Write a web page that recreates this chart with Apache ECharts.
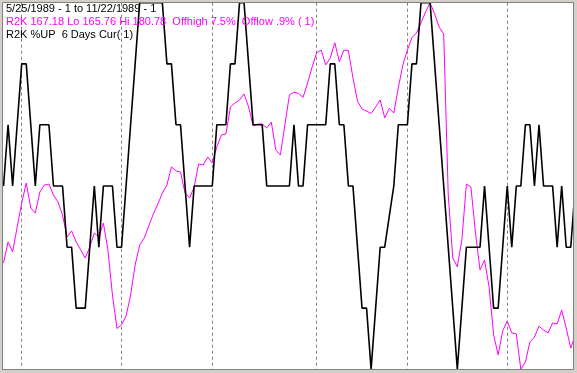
<!DOCTYPE html>
<html><head><meta charset="utf-8">
<script src="https://cdn.jsdelivr.net/npm/echarts@6/dist/echarts.min.js"></script>
<style>html,body{margin:0;padding:0;background:#fff;overflow:hidden}#c{width:577px;height:373px}</style>
</head><body><div id="c"></div>
<script>
// Trading days 5/25/1989 .. 11/22/1989
const dates = [
 '1989-05-25','1989-05-26','1989-05-30','1989-05-31',
 '1989-06-01','1989-06-02','1989-06-05','1989-06-06','1989-06-07','1989-06-08','1989-06-09','1989-06-12','1989-06-13','1989-06-14','1989-06-15','1989-06-16','1989-06-19','1989-06-20','1989-06-21','1989-06-22','1989-06-23','1989-06-26','1989-06-27','1989-06-28','1989-06-29','1989-06-30',
 '1989-07-03','1989-07-05','1989-07-06','1989-07-07','1989-07-10','1989-07-11','1989-07-12','1989-07-13','1989-07-14','1989-07-17','1989-07-18','1989-07-19','1989-07-20','1989-07-21','1989-07-24','1989-07-25','1989-07-26','1989-07-27','1989-07-28','1989-07-31',
 '1989-08-01','1989-08-02','1989-08-03','1989-08-04','1989-08-07','1989-08-08','1989-08-09','1989-08-10','1989-08-11','1989-08-14','1989-08-15','1989-08-16','1989-08-17','1989-08-18','1989-08-21','1989-08-22','1989-08-23','1989-08-24','1989-08-25','1989-08-28','1989-08-29','1989-08-30','1989-08-31',
 '1989-09-01','1989-09-05','1989-09-06','1989-09-07','1989-09-08','1989-09-11','1989-09-12','1989-09-13','1989-09-14','1989-09-15','1989-09-18','1989-09-19','1989-09-20','1989-09-21','1989-09-22','1989-09-25','1989-09-26','1989-09-27','1989-09-28','1989-09-29',
 '1989-10-02','1989-10-03','1989-10-04','1989-10-05','1989-10-06','1989-10-09','1989-10-10','1989-10-11','1989-10-12','1989-10-13','1989-10-16','1989-10-17','1989-10-18','1989-10-19','1989-10-20','1989-10-23','1989-10-24','1989-10-25','1989-10-26','1989-10-27','1989-10-30','1989-10-31',
 '1989-11-01','1989-11-02','1989-11-03','1989-11-06','1989-11-07','1989-11-08','1989-11-09','1989-11-10','1989-11-13','1989-11-14','1989-11-15','1989-11-16','1989-11-17','1989-11-20','1989-11-21','1989-11-22'
];
// R2K close (magenta)
const r2k = [
 170.12,170.98,170.57,171.59,172.57,173.39,172.37,172.16,173.02,173.31,
 173.35,172.90,172.61,172.08,171.18,171.43,170.98,170.65,170.32,170.77,
 171.34,171.18,171.75,170.65,168.80,167.43,167.58,167.94,168.80,170.03,
 170.85,171.14,171.63,172.12,172.53,172.98,173.31,174.05,173.89,173.84,
 172.98,172.78,173.23,174.17,174.13,174.46,174.21,174.87,175.36,175.40,
 176.51,176.67,176.79,177.04,176.51,175.73,175.81,175.81,175.65,175.89,
 174.75,174.54,175.77,177.00,177.12,177.06,176.90,177.49,178.15,178.73,
 178.84,178.23,178.51,179.14,178.36,178.84,178.82,177.70,176.75,176.42,
 176.34,176.24,176.51,176.79,176.06,176.45,176.26,177.30,178.23,178.84,
 179.35,179.54,179.95,180.40,180.78,180.32,179.78,179.50,172.90,170.32,
 169.96,171.06,173.35,173.23,171.34,169.83,170.24,169.13,167.17,166.35,
 167.33,167.74,167.25,167.21,165.76,166.06,166.88,167.08,167.53,167.37,
 167.25,167.66,167.62,168.19,167.45,166.63,167.18
];
// R2K %UP over 6 days (black)
const pctUp = [
 50,66.7,50,66.7,83.3,83.3,66.7,50,66.7,66.7,
 66.7,50,50,50,33.3,33.3,16.7,16.7,16.7,33.3,
 50,33.3,50,50,50,33.3,33.3,50,66.7,83.3,
 100,100,100,100,100,100,83.3,83.3,66.7,66.7,
 50,33.3,50,50,50,50,50,66.7,66.7,66.7,
 83.3,83.3,100,100,83.3,66.7,66.7,66.7,50,50,
 50,50,50,50,66.7,50,50,66.7,66.7,66.7,
 66.7,66.7,83.3,83.3,66.7,66.7,50,50,33.3,16.7,
 16.7,0,16.7,33.3,33.3,41.7,50,66.7,66.7,66.7,
 83.3,83.3,100,100,100,83.3,66.7,50,33.3,16.7,
 0,16.7,33.3,33.3,33.3,33.3,50,33.3,16.7,16.7,
 33.3,50,33.3,50,50,66.7,66.7,50,66.7,50,
 50,50,33.3,50,33.3,33.3,50
];
const r2kLo = 165.76, r2kHi = 180.78;
const headerLines = [
 {text: '5/25/1989 - 1 to 11/22/1989 - 1', color: '#000000'},
 {text: 'R2K 167.18 Lo 165.76 Hi 180.78  Offhigh 7.5%  Offlow .9% ( 1)', color: '#ff00ff'},
 {text: 'R2K %UP  6 Days Cur( 1)', color: '#000000'}
];

const W = 577, H = 373;
const chart = echarts.init(document.getElementById('c'), null, {renderer: 'canvas', width: W, height: H});

function isMonthStart(idx) {
  if (idx === 0) return false;
  return dates[idx].slice(5, 7) !== dates[idx - 1].slice(5, 7);
}

const graphics = [];
headerLines.forEach((l, k) => {
  graphics.push({type: 'text', z: 100, left: 6, top: 3 + k * 13.4,
    style: {text: l.text, fill: l.color, font: '11px "Liberation Sans", Arial, sans-serif'}});
});
// window frame
graphics.push({type: 'rect', z: 200, silent: true, shape: {x: 0, y: 0, width: W, height: 2}, style: {fill: '#d4d0c8'}});
graphics.push({type: 'rect', z: 200, silent: true, shape: {x: 0, y: 0, width: 2, height: H}, style: {fill: '#d4d0c8'}});
graphics.push({type: 'rect', z: 200, silent: true, shape: {x: 0, y: H - 3, width: W, height: 3}, style: {fill: '#d4d0c8'}});
graphics.push({type: 'rect', z: 200, silent: true, shape: {x: W - 3, y: 0, width: 3, height: H}, style: {fill: '#d4d0c8'}});
graphics.push({type: 'polyline', z: 201, silent: true, shape: {points: [[2.5, H - 3], [2.5, 2.5], [W - 3, 2.5]]}, style: {stroke: '#808080', lineWidth: 1, fill: null}});
graphics.push({type: 'polyline', z: 201, silent: true, shape: {points: [[2.5, H - 3.5], [W - 3.5, H - 3.5], [W - 3.5, 2.5]]}, style: {stroke: '#808080', lineWidth: 1, fill: null}});

chart.setOption({
  animation: false,
  backgroundColor: '#ffffff',
  grid: {left: 3.55, right: 1.7, top: 2.7, bottom: 3.7, containLabel: false},
  xAxis: {
    type: 'category', data: dates, boundaryGap: false,
    axisLine: {show: false}, axisTick: {show: false}, axisLabel: {show: false},
    splitLine: {show: true, interval: (i) => isMonthStart(i),
      lineStyle: {color: '#808080', width: 1, type: [3, 3]}}
  },
  yAxis: [
    {type: 'value', min: 0, max: 100, show: false, splitLine: {show: false}},
    {type: 'value', min: r2kLo, max: r2kHi, show: false, splitLine: {show: false}}
  ],
  series: [
    {type: 'line', name: 'R2K', yAxisIndex: 1, data: r2k, symbol: 'none', clip: false,
      lineStyle: {color: '#ff00ff', width: 1}, z: 3},
    {type: 'line', name: 'R2K %UP 6 Days', yAxisIndex: 0, data: pctUp, symbol: 'none', clip: false,
      lineStyle: {color: '#000000', width: 1.6}, z: 4}
  ],
  graphic: graphics
});
</script>
</body></html>
